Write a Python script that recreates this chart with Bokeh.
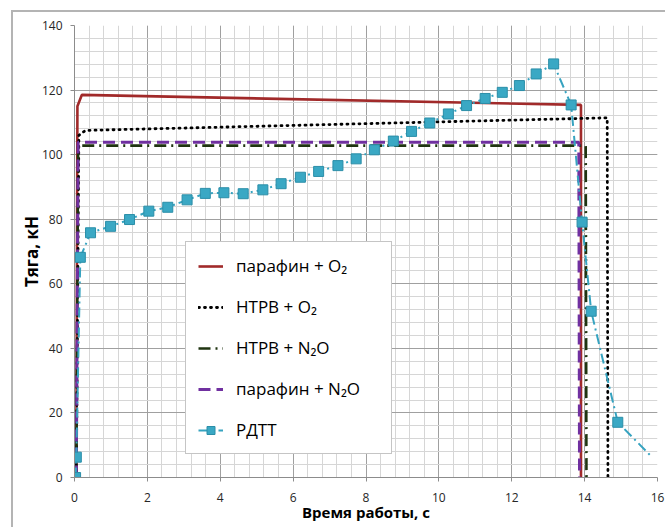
from bokeh.plotting import figure
from bokeh.models import SingleIntervalTicker, Range1d, Legend, LegendItem
from bokeh.embed import file_html
from bokeh.resources import INLINE

# ---- data (time, s ; thrust, kN) ----
par_o2_t = [0.05, 0.08, 0.2, 13.9, 13.9]
par_o2_f = [0, 115, 118.5, 115.4, 0]

htpb_o2_t = [0.05, 0.12, 0.3, 14.62, 14.64]
htpb_o2_f = [0, 106, 107.5, 111.4, 0]

htpb_n2o_t = [0.05, 0.1, 14.03, 14.05]
htpb_n2o_f = [0, 102.8, 102.8, 0]

par_n2o_t = [0.05, 0.1, 13.84, 13.86]
par_n2o_f = [0, 103.8, 103.8, 0]

rdtt_t = [0.03, 0.05, 0.16, 0.44, 0.99, 1.51, 2.04, 2.56, 3.09, 3.59, 4.10, 4.63,
          5.17, 5.67, 6.20, 6.70, 7.23, 7.73, 8.23, 8.75, 9.25, 9.75, 10.26, 10.76,
          11.27, 11.74, 12.21, 12.67, 13.15, 13.63, 13.93, 14.18, 14.91, 15.85]
rdtt_f = [0, 6.3, 68.2, 75.8, 77.8, 79.9, 82.5, 83.7, 86.0, 88.0, 88.2, 87.9,
          89.1, 91.0, 93.0, 94.8, 96.6, 98.7, 101.5, 104.2, 107.2, 109.8, 112.6, 115.2,
          117.4, 119.3, 121.4, 125.0, 128.1, 115.4, 79.1, 51.5, 17.1, 6.3]

labels = ["парафин + O\u2082", "НТРВ + O\u2082", "НТРВ + N\u2082O", "парафин + N\u2082O", "РДТТ"]
x_title = "Время работы, с"
y_title = "Тяга, кН"

FONT = "Open Sans"

p = figure(width=665, height=527, output_backend="svg", toolbar_location=None,
           x_range=Range1d(0, 16), y_range=Range1d(0, 140),
           min_border_left=74, min_border_right=8, min_border_top=25, min_border_bottom=50)
p.outline_line_color = None
p.background_fill_color = "white"
p.border_fill_color = None
p.border_fill_alpha = 0
# outer chart-area border (drawn as CSS background behind the transparent border area)
p.styles = {
    "background": ("linear-gradient(#b4b4b4,#b4b4b4) 11px 10px / 2px 100% no-repeat, "
                   "linear-gradient(#b4b4b4,#b4b4b4) 11px 10px / 100% 2px no-repeat, white"),
}

p.xaxis.ticker = SingleIntervalTicker(interval=2, num_minor_ticks=5)
p.yaxis.ticker = SingleIntervalTicker(interval=20, num_minor_ticks=5)

for g in (p.xgrid, p.ygrid):
    g.grid_line_color = "#a0a0a0"
    g.grid_line_width = 1
    g.minor_grid_line_color = "#d6d6d6"
    g.minor_grid_line_width = 1

for ax in (p.xaxis, p.yaxis):
    ax.axis_line_color = "#8c8c8c"
    ax.major_tick_line_color = "#8c8c8c"
    ax.major_tick_out = 4
    ax.major_tick_in = 0
    ax.minor_tick_line_color = None
    ax.major_label_text_font = FONT
    ax.major_label_text_font_size = "12px"
    ax.major_label_text_color = "#262626"
    ax.axis_label_text_font = FONT
    ax.axis_label_text_font_style = "bold"
    ax.axis_label_text_color = "#000000"

p.xaxis.axis_label = x_title
p.yaxis.axis_label = y_title
p.xaxis.axis_label_text_font_size = "15px"
p.yaxis.axis_label_text_font_size = "17px"
p.xaxis.major_label_standoff = 11
p.yaxis.major_label_standoff = 8
p.xaxis.axis_label_standoff = -3
p.yaxis.axis_label_standoff = -4

r1 = p.line(par_o2_t, par_o2_f, line_color="#a12a2a", line_width=2.6)
r2 = p.line(htpb_o2_t, htpb_o2_f, line_color="#000000", line_width=2.8,
            line_dash="1 5", line_cap="round")
r3 = p.line(htpb_n2o_t, htpb_n2o_f, line_color="#1f3410", line_width=2.6,
            line_dash="12 5 2 5")
r4 = p.line(par_n2o_t, par_n2o_f, line_color="#7030a0", line_width=3,
            line_dash="12 6")
r5 = p.line(rdtt_t, rdtt_f, line_color="#36a3c0", line_width=2,
            line_dash="10 4 2 4")
r6 = p.scatter(rdtt_t[:-1], rdtt_f[:-1], marker="square", size=10,
               fill_color="#3aa8c4", line_color="#2b8ea8", line_width=1)

legend = Legend(items=[
    LegendItem(label=labels[0], renderers=[r1]),
    LegendItem(label=labels[1], renderers=[r2]),
    LegendItem(label=labels[2], renderers=[r3]),
    LegendItem(label=labels[3], renderers=[r4]),
    LegendItem(label=labels[4], renderers=[r5, r6]),
], location=(111, 23))
legend.label_text_font = FONT
legend.label_text_font_size = "17px"
legend.label_text_color = "#000000"
legend.glyph_width = 25
legend.glyph_height = 20
legend.label_height = 20
legend.spacing = 18
legend.padding = 12
legend.label_standoff = 13
legend.label_width = 143
legend.border_line_color = "#8c8c8c"
legend.border_line_width = 1.5
legend.background_fill_color = "white"
legend.background_fill_alpha = 1
legend.margin = 0
p.add_layout(legend, "center")

open("out.html", "w").write(file_html(p, INLINE))
